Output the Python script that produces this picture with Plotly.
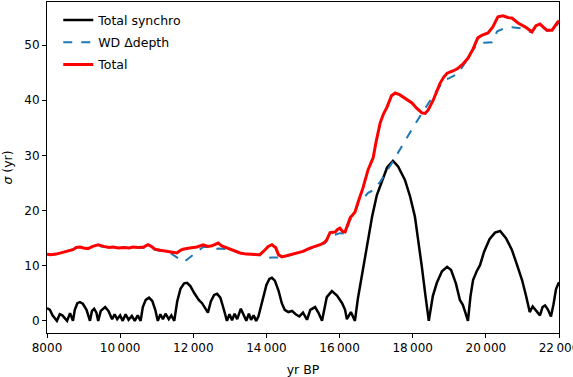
import plotly.graph_objects as go

# Total synchro (black)
synchro_yr = [8000, 8080, 8150, 8270, 8350, 8420, 8550, 8630, 8710, 8760, 8830, 8900, 8980, 9080,
              9175, 9230, 9290, 9350, 9400, 9470, 9590, 9680, 9780, 9850, 9920, 10000, 10070,
              10150, 10230, 10320, 10400, 10480, 10560, 10620, 10700, 10790, 10880, 10960, 11030,
              11100, 11170, 11240, 11330, 11400, 11480, 11560, 11650, 11750, 11830, 11920, 12030,
              12150, 12240, 12320, 12400, 12480, 12570, 12650, 12740, 12830, 12920, 12990, 13060,
              13130, 13200, 13300, 13380, 13450, 13520, 13580, 13650, 13720, 13780, 13900, 14000,
              14080, 14150, 14230, 14330, 14420, 14500, 14600, 14700, 14800, 14900, 15000, 15110,
              15200, 15330, 15420, 15520, 15650, 15790, 15930, 16070, 16150, 16200, 16310, 16420,
              16500, 16610, 16750, 16890, 17020, 17160, 17300, 17460, 17600, 17790, 17930, 18060,
              18160, 18250, 18350, 18440, 18550, 18660, 18800, 18940, 19050, 19180, 19290, 19370,
              19440, 19510, 19580, 19650, 19750, 19840, 19950, 20100, 20250, 20390, 20550, 20710,
              20850, 20990, 21100, 21200, 21280, 21350, 21480, 21550, 21620, 21700, 21780, 21850,
              21920, 22000]
synchro_sigma = [2.3, 2.0, 1.0, 0.0, 1.2, 1.0, 0.0, 1.4, 0.0, 2.0, 3.2, 3.4, 3.1, 2.0,
                 0.0, 1.8, 2.2, 1.5, 0.0, 1.8, 2.5, 1.8, 0.3, 1.2, 0.3, 1.0, 0.0,
                 1.2, 0.2, 0.9, 0.0, 1.0, 0.0, 2.5, 3.8, 4.2, 3.6, 2.0, 0.0,
                 1.2, 0.3, 1.3, 0.3, 1.0, 0.0, 3.5, 5.8, 6.8, 6.9, 6.3, 5.0,
                 3.8, 3.2, 2.4, 1.5, 3.5, 4.7, 4.9, 4.2, 2.2, 0.0, 1.2, 0.1,
                 1.3, 0.3, 2.2, 1.0, 0.0, 1.3, 0.2, 1.0, 0.0, 0.8, 4.0, 6.5,
                 7.6, 7.8, 7.3, 5.5, 3.2, 2.0, 1.6, 1.8, 1.2, 0.8, 1.5, 0.2,
                 2.0, 2.5, 1.5, 0.0, 4.3, 5.4, 4.6, 3.2, 2.0, 0.3, 1.6, 0.0,
                 4.0, 8.0, 13.5, 18.9, 22.8, 25.5, 27.8, 29.0, 28.0, 25.5, 22.5, 18.9,
                 14.5, 9.8, 4.5, 0.0, 4.5, 6.9, 9.0, 9.8, 9.2, 6.8, 3.8, 2.9,
                 1.5, 0.0, 4.5, 7.4, 9.0, 10.1, 12.5, 14.8, 16.0, 16.3, 15.0, 12.9,
                 10.2, 7.4, 4.5, 1.6, 2.6, 2.0, 1.0, 2.5, 2.8, 2.0, 0.8, 3.0,
                 5.8, 7.0]

# WD delta-depth (blue dashed)
wd_yr = [8000, 8100, 8250, 8400, 8550, 8710, 8800, 8900, 9000, 9120, 9250, 9400, 9550, 9700,
         9800, 9950, 10100, 10250, 10350, 10500, 10650, 10760, 10850, 10950, 11100, 11250,
         11400, 11550, 11650, 11750, 11900, 12100, 12270, 12400, 12510, 12600, 12680, 12780,
         12920, 13100, 13280, 13450, 13650, 13820, 13950, 14050, 14150, 14250, 14420, 14550,
         14700, 14830, 15000, 15190, 15350, 15470, 15600, 15650, 15740, 15880, 16010, 16150,
         16290, 16420, 16510, 16610, 16700, 16780, 16900, 17050, 17110, 17430, 17740, 18010,
         18280, 18660, 18880, 19000, 19240, 19430, 19600, 19760, 19950, 20170, 20310, 20500,
         20710, 20990, 21200, 21260, 21370, 21480, 21580, 21670, 21810, 21900, 21970, 22000]
wd_sigma = [12.1, 12.0, 12.1, 12.4, 12.6, 12.9, 13.2, 13.3, 13.2, 13.1, 13.4, 13.6, 13.4, 13.3,
            13.3, 13.2, 13.3, 13.2, 13.3, 13.2, 13.2, 13.3, 13.2, 12.9, 12.7, 12.5,
            12.2, 11.5, 11.0, 10.7, 11.5, 12.5, 13.4, 13.4, 13.2, 13.0, 13.1, 13.1,
            13.0, 12.7, 12.3, 12.1, 12.0, 11.9, 11.6, 11.4, 11.5, 11.5, 11.5, 11.7,
            12.0, 12.3, 12.6, 13.1, 13.4, 13.7, 14.1, 14.5, 15.4, 15.6, 15.9, 15.8,
            18.3, 19.5, 21.4, 21.9, 22.7, 23.2, 23.6, 24.9, 25.2, 28.6, 32.2, 35.1,
            37.9, 41.8, 43.7, 44.0, 44.8, 46.7, 48.5, 50.2, 50.4, 50.5, 52.5, 53.0,
            53.2, 53.0, 52.4, 52.3, 53.4, 53.7, 53.1, 52.6, 52.6, 53.4, 54.0, 54.1]

# Total (red)
total_yr = [8000, 8100, 8250, 8400, 8550, 8710, 8800, 8900, 9000, 9120, 9250, 9400, 9550, 9700,
            9800, 9950, 10100, 10250, 10350, 10500, 10650, 10760, 10850, 10950, 11100, 11250,
            11400, 11550, 11650, 11720, 11900, 12100, 12270, 12400, 12510, 12600, 12680, 12780,
            12920, 13100, 13280, 13450, 13650, 13820, 13950, 14050, 14150, 14250, 14330, 14420,
            14550, 14700, 14830, 15000, 15190, 15350, 15470, 15600, 15650, 15740, 15880, 15950,
            16010, 16080, 16150, 16290, 16420, 16510, 16640, 16780, 16920, 17000, 17110, 17200,
            17300, 17420, 17520, 17640, 17740, 17860, 17980, 18100, 18250, 18340, 18420, 18560,
            18650, 18750, 18850, 18940, 19100, 19240, 19380, 19510, 19650, 19780, 19900, 20060,
            20190, 20330, 20470, 20600, 20710, 20880, 21070, 21170, 21260, 21370, 21480, 21580,
            21670, 21810, 21900, 21970, 22000]
total_sigma = [12.1, 12.0, 12.1, 12.4, 12.6, 12.9, 13.3, 13.4, 13.2, 13.1, 13.5, 13.8, 13.5, 13.3,
               13.4, 13.2, 13.3, 13.2, 13.4, 13.3, 13.4, 13.8, 13.5, 13.0, 12.8, 12.6,
               12.5, 12.3, 12.8, 13.0, 13.2, 13.4, 13.8, 13.5, 13.6, 13.9, 14.1, 13.6,
               13.2, 12.8, 12.3, 12.1, 12.0, 12.0, 12.8, 13.5, 13.8, 13.3, 12.0, 11.6,
               11.8, 12.1, 12.3, 12.6, 13.2, 13.5, 13.8, 14.3, 14.7, 16.0, 16.1, 16.6,
               16.8, 16.2, 16.1, 18.7, 19.7, 21.6, 24.1, 27.4, 29.6, 32.5, 35.9, 37.5,
               38.8, 40.8, 41.3, 41.0, 40.6, 40.0, 39.5, 38.6, 37.7, 37.6, 38.2, 40.0,
               41.5, 43.1, 44.2, 44.9, 45.3, 45.8, 46.6, 47.6, 49.3, 51.3, 51.8, 52.2,
               53.3, 55.1, 55.3, 55.0, 54.9, 54.0, 53.3, 52.8, 52.4, 53.5, 53.8, 53.2,
               52.7, 52.7, 53.5, 54.2, 54.2]

x_ticks = [8000, 10000, 12000, 14000, 16000, 18000, 20000, 22000]
x_ticktext = ["8000", "10\u2009000", "12\u2009000", "14\u2009000", "16\u2009000",
              "18\u2009000", "20\u2009000", "22\u2009000"]
y_ticks = [0, 10, 20, 30, 40, 50]

fig = go.Figure()
fig.add_trace(go.Scatter(x=synchro_yr, y=synchro_sigma, mode="lines", name="Total synchro",
                         line=dict(color="black", width=2.5), legendgroup="a"))
fig.add_trace(go.Scatter(x=wd_yr, y=wd_sigma, mode="lines", name="WD \u0394depth",
                         line=dict(color="#1f77b4", width=2, dash="dash"), legendgroup="b"))
fig.add_trace(go.Scatter(x=total_yr, y=total_sigma, mode="lines", name="Total",
                         line=dict(color="red", width=3), legendgroup="c"))

axis_style = dict(showline=True, linecolor="black", linewidth=1, mirror=True,
                  ticks="outside", ticklen=4, tickcolor="black", showgrid=False,
                  zeroline=False, automargin=False, ticklabeloverflow="allow",
                  tickfont=dict(size=12, color="black"))

fig.update_layout(
    width=573, height=377,
    margin=dict(l=47, r=14, t=2, b=44),
    paper_bgcolor="white", plot_bgcolor="white",
    font=dict(family="DejaVu Sans", size=12, color="black"),
    legend=dict(x=0.022, y=0.99, xanchor="left", yanchor="top", bgcolor="rgba(0,0,0,0)",
                traceorder="grouped", tracegroupgap=3, font=dict(size=12.5)),
    xaxis=dict(range=[8000, 22000], tickvals=x_ticks, ticktext=x_ticktext,
               title=dict(text="yr BP", standoff=10, font=dict(size=12.5)), **axis_style),
    yaxis=dict(range=[-2.2, 57.8], tickvals=y_ticks,
               title=dict(text="<i>\u03c3</i> (yr)", standoff=8, font=dict(size=12.5)), **axis_style),
)

# drop the page's default body margin so the figure sits at the window's corner
fig.write_html("out.html", config={"displayModeBar": False},
               post_script="document.body.style.margin = '0';")
